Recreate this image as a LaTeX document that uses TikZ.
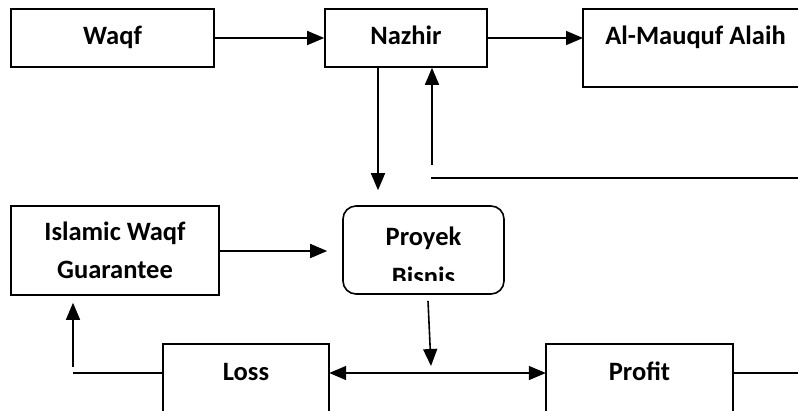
\documentclass[tikz,border=0pt]{standalone}
\usepackage{fontspec}
\setmainfont{Carlito}
\usetikzlibrary{arrows.meta}
\begin{document}
\begin{tikzpicture}[x=1bp,y=-1bp,
  every node/.style={font=\bfseries\fontsize{26.5bp}{37.5bp}\selectfont, inner sep=0pt},
  lw/.style={line width=1.6bp},
  box/.style={lw, draw, text height=18bp, text depth=5bp},
  con/.style={lw},
  tip/.tip={Triangle[length=17bp,width=14bp]},
  arr/.style={con, -tip},
  darr/.style={con, tip-tip}
]
\useasboundingbox (0,0) rectangle (798,410);
\clip (0,0) rectangle (798,410);

% top row
\node[box, minimum width=203bp, minimum height=58bp] (waqf) at (112.5,38) {Waqf};
\node[box, minimum width=162bp, minimum height=58bp] (nazhir) at (406,38) {Nazhir};
\node[text height=18bp, text depth=5bp] (mauquf) at (695.5,38) {Al-Mauquf Alaih};
\draw[lw] (800,9) -- (583,9) -- (583,87) -- (800,87);
\coordinate (mqw) at (583,38);

% middle row
\node[lw, draw, align=center, minimum width=208bp, minimum height=89bp] (isl) at (115,250.5) {Islamic Waqf\\Guarantee};
\node[lw, draw, rounded corners=13bp, minimum width=161bp, minimum height=88bp] (proyek) at (423.5,250) {};
\begin{scope}
  \clip (343,206) rectangle (504,280.5);
  \node[align=center, anchor=north, font=\bfseries\fontsize{26.5bp}{39.5bp}\selectfont] (proyektext) at (423.5,226.7) {Proyek\\Bisnis};
\end{scope}

% bottom row
\node[text height=18bp, text depth=3bp, minimum width=166bp, minimum height=58bp] (loss) at (246,373) {Loss};
\draw[lw] ([yshift=-14bp]loss.south west) -- (loss.north west) -- (loss.north east) -- ([yshift=-14bp]loss.south east);
\node[text height=18bp, text depth=3bp, minimum width=187bp, minimum height=58bp] (profit) at (639.5,373) {Profit};
\draw[lw] ([yshift=-14bp]profit.south west) -- (profit.north west) -- (profit.north east) -- ([yshift=-14bp]profit.south east);

% coordinates for free ends
\coordinate (fb) at (432,165);
\coordinate (fbs) at (431,178);
\coordinate (fbe) at (798,178);
\coordinate (pb) at (431,366);
\coordinate (pe) at (798,373);
\coordinate (lwc) at (73,373);
\coordinate (lu) at (73,367);

% connectors
\draw[arr] (waqf) -- (nazhir);
\draw[arr] (nazhir) -- (mqw);
\draw[arr, shorten >=15bp] ([xshift=-28bp]nazhir.south) -- ([xshift=-28bp]nazhir.south |- proyek.north);
\draw[arr] (fb) -- (fb |- nazhir.south);
\draw[con] (fbs) -- (fbe);
\draw[arr, shorten >=15bp] (isl.east |- 0,251) -- (proyek.west |- 0,251);
\draw[arr] ([shift={(4.5,6)}]proyek.south) -- (pb);
\draw[darr] (loss.east) -- (profit.west);
\draw[con] (profit.east) -- (pe);
\draw[con] (loss.west) -- (lwc);
\draw[arr, shorten >=7bp] (lu) -- (lu |- isl.south);
\end{tikzpicture}
\end{document}
